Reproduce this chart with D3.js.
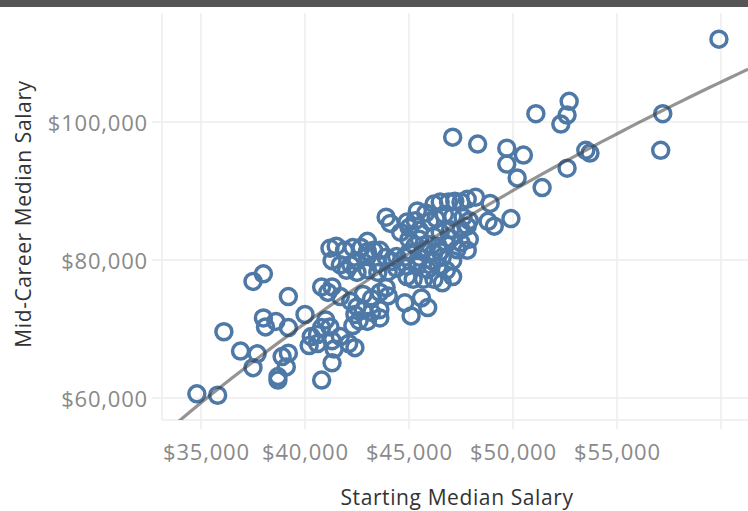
<!DOCTYPE html>
<html><head><meta charset="utf-8">
<script src="https://cdn.jsdelivr.net/npm/d3@7"></script>
<style>body{margin:0;background:#fff;} svg{display:block;font-family:'Open Sans',sans-serif;}</style>
</head><body><svg id="c" width="748" height="511"></svg>
<script>
// ---- data ----
const startingSalary = [
59900,57200,57100,53500,53700,52700,52600,52300,51100,52600,51400,47100,48300,49700,50500,49700,50200,49900,48900,48800,49100,
46200,46500,46900,47200,47500,47800,48200,
45400,45800,45300,46000,46300,46700,47100,47600,47900,
44900,44600,45000,45500,45000,45500,46200,46500,47000,47500,47800,47000,47500,47900,
45000,45700,46200,45500,46100,46600,47100,47300,47800,44900,45400,45900,46400,46800,44900,45200,45700,46200,46600,47100,
44800,45600,45100,45900,
43900,44100,41200,41500,41900,42300,42700,43000,43300,43600,41300,41700,42200,42500,43000,43500,43900,44400,43000,42000,42500,43000,43500,44000,44400,
40800,41300,41100,41700,42200,42800,43200,43600,43900,44000,42500,42800,43200,43600,42400,42600,43000,43600,42300,41700,42100,42400,41300,41400,41300,40800,
40000,41000,41200,40800,40600,40300,40200,40600,39200,38000,38100,38600,39200,37500,38000,38900,39200,39100,38700,38700,37500,37700,36900,36100,34800,35800,
45300,45900,46400,46800,44800,44200,45400,46500
];
const midCareerSalary = [
112000,101200,95900,95900,95500,103000,101000,99700,101200,93300,90500,97800,96800,96200,95200,93900,91900,86000,88200,85600,84900,
88100,88400,88400,88500,88400,88800,89100,
87100,86800,85700,85600,86000,86600,86300,86200,85700,
85500,84000,84700,84300,83000,83000,83400,84000,84400,84400,84900,83100,82500,83000,
81100,81500,81100,80400,79900,80400,79900,81500,81400,79100,79100,78600,79100,78500,77600,77200,77200,77200,76700,77600,
73800,74500,71900,73100,
86200,85300,81700,82000,81400,81800,81800,82700,81400,81400,79900,79300,79300,79900,80500,79500,80400,80500,81200,78500,78200,78600,78200,78300,78800,
76100,76100,75300,74700,74000,75000,74400,75300,76000,74800,73200,72700,72400,72800,72100,71200,71100,71600,70500,68900,67900,67300,68300,67100,65100,62600,
72100,71300,70300,70200,69200,68900,67600,67900,74700,71600,70300,71100,70200,76900,78000,66000,66500,64500,63100,62600,64400,66400,66800,69600,60600,60400,
82100,82300,82000,82300,80400,79800,79800,81200
];
const xGridTicks = [35000,40000,45000,50000,55000,60000];
const xLabelTicks = [35000,40000,45000,50000,55000];
const yTicks = [60000,80000,100000];
const xTitle = "Starting Median Salary";
const yTitle = "Mid-Career Median Salary";

// ---- layout ----
const W = 748, H = 511;
const plot = {left:162, top:13, right:748, bottom:420};
const svg = d3.select("#c");

const x = d3.scaleLinear().domain([35000,60000]).range([201,721]);
const y = d3.scaleLinear().domain([60000,100000]).range([398,122]);

svg.append("rect").attr("x",0).attr("y",0).attr("width",W).attr("height",7).attr("fill","#555555");

const gridColor = "#ececec";
svg.append("g").selectAll("line").data(xGridTicks).join("line")
  .attr("x1",d=>x(d)).attr("x2",d=>x(d)).attr("y1",plot.top).attr("y2",plot.bottom+9)
  .attr("stroke",gridColor).attr("stroke-width",1.5);
svg.append("g").selectAll("line").data(yTicks).join("line")
  .attr("x1",plot.left-10).attr("x2",plot.right).attr("y1",d=>y(d)).attr("y2",d=>y(d))
  .attr("stroke",gridColor).attr("stroke-width",1.5);
svg.append("line").attr("x1",plot.left).attr("x2",plot.left).attr("y1",plot.top).attr("y2",plot.bottom)
  .attr("stroke",gridColor).attr("stroke-width",1.5);
svg.append("line").attr("x1",plot.left).attr("x2",plot.right).attr("y1",plot.bottom).attr("y2",plot.bottom)
  .attr("stroke",gridColor).attr("stroke-width",1.5);

svg.append("defs").append("clipPath").attr("id","clip").append("rect")
  .attr("x",plot.left).attr("y",plot.top).attr("width",plot.right-plot.left).attr("height",plot.bottom-plot.top);

const pts = startingSalary.map((s,i)=>({s, m: midCareerSalary[i]}));
svg.append("g").attr("clip-path","url(#clip)").selectAll("circle").data(pts).join("circle")
  .attr("cx",d=>x(d.s)).attr("cy",d=>y(d.m)).attr("r",8)
  .attr("fill","none").attr("stroke","#4e79a7").attr("stroke-width",3.5);

// logarithmic trend line fitted to the data
const lx = startingSalary.map(Math.log);
const mx = d3.mean(lx), my = d3.mean(midCareerSalary);
let sxy=0, sxx=0;
lx.forEach((v,i)=>{ sxy += (v-mx)*(midCareerSalary[i]-my); sxx += (v-mx)*(v-mx); });
const a = sxy/sxx, b = my - a*mx;
const xs = d3.range(0,61).map(i => x.invert(plot.left + (plot.right-plot.left)*i/60));
svg.append("path").attr("clip-path","url(#clip)")
  .datum(xs)
  .attr("d", d3.line().x(d=>x(d)).y(d=>y(a*Math.log(d)+b)))
  .attr("fill","none").attr("stroke","rgba(60,60,60,0.55)").attr("stroke-width",3.2);

const fmt = d3.format("$,");
const gx = svg.append("g").attr("transform",`translate(0,452)`)
  .call(d3.axisBottom(x).tickValues(xLabelTicks).tickSize(0).tickPadding(0).tickFormat(fmt));
gx.select(".domain").remove();
gx.selectAll("text").attr("y",0).attr("dy","0.35em").attr("fill","#898989")
  .style("font-size","22px").style("letter-spacing","0.8px").style("font-family","'Open Sans',sans-serif");
gx.selectAll(".tick").each(function(){
  const t = d3.select(this).select("text");
  const bb = t.node().getBBox();
  const tr = d3.select(this).attr("transform");
  const cx = +tr.match(/translate\(([-\d.]+)/)[1];
  if (cx + bb.x < plot.left+1) t.attr("x", plot.left+1 - (cx+bb.x));
});

const gy = svg.append("g").attr("transform",`translate(148,0)`)
  .call(d3.axisLeft(y).tickValues(yTicks).tickSize(0).tickPadding(0).tickFormat(fmt));
gy.select(".domain").remove();
gy.selectAll("text").attr("dy","0.4em").attr("fill","#898989")
  .style("font-size","22px").style("letter-spacing","0.8px").style("font-family","'Open Sans',sans-serif");

svg.append("text").attr("x",457).attr("y",497).attr("text-anchor","middle").attr("dominant-baseline","central")
  .attr("fill","#333").style("font-size","21px").style("letter-spacing","0.6px").text(xTitle);
svg.append("text").attr("transform","translate(23,214) rotate(-90)").attr("text-anchor","middle")
  .attr("dominant-baseline","central").attr("fill","#333").style("font-size","21px").style("letter-spacing","0.6px").text(yTitle);
</script>
</body></html>
